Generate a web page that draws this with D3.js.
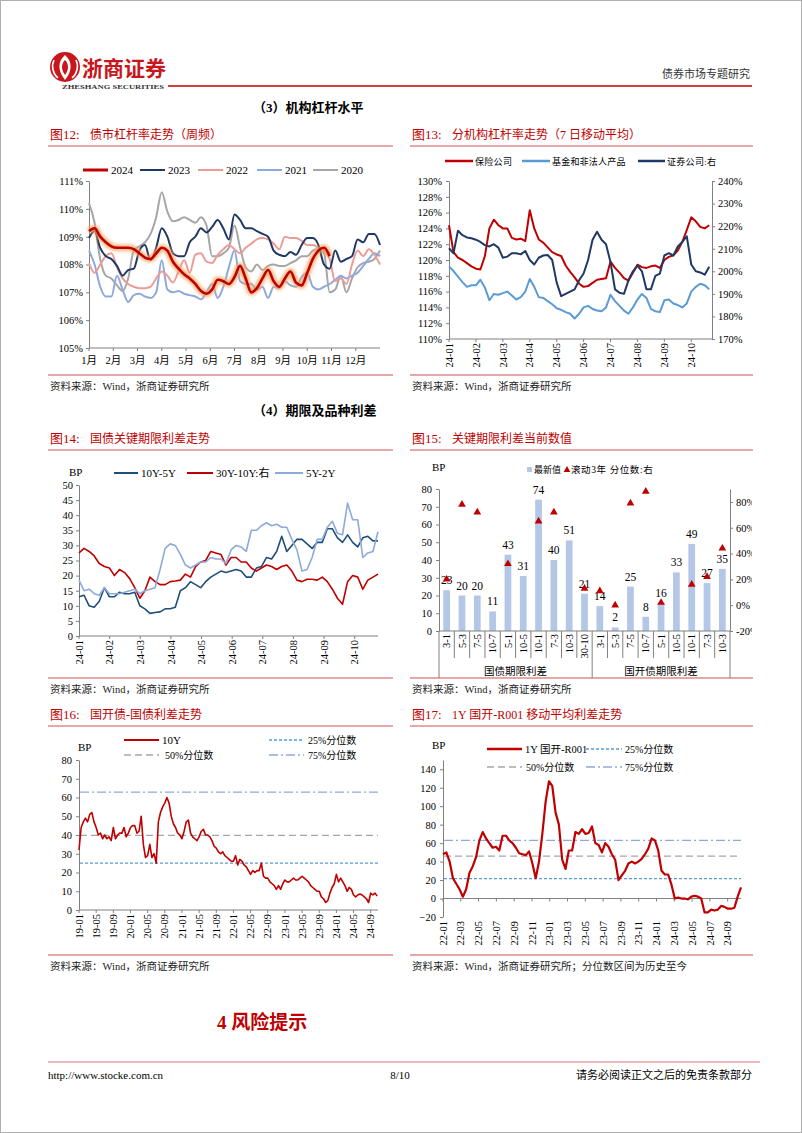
<!DOCTYPE html>
<html><head><meta charset="utf-8">
<script src="https://cdn.jsdelivr.net/npm/d3@7"></script>
<style>body{margin:0;background:#fff;}</style>
</head><body>
<svg id="page" width="802" height="1133"></svg>
<script>
// ---------------- DATA ----------------
// Fig 12: weekly bond-market leverage (%), week index 0..52
const monthLabels12 = ["1月","2月","3月","4月","5月","6月","7月","8月","9月","10月","11月","12月"];
const lev2024 = [109.2,109.3,109.0,108.8,108.65,108.6,108.6,108.6,108.55,108.4,108.25,108.2,108.4,108.6,108.5,108.1,107.85,107.65,107.5,107.3,107.05,106.95,107.1,107.45,107.4,107.3,107.55,107.95,107.5,107.0,107.15,107.5,107.8,107.4,107.2,107.5,107.75,107.35,107.25,107.7,108.2,108.5,108.6,108.3];
const lev2023 = [108.95,109.2,108.6,108.3,108.2,107.95,107.6,107.8,107.85,108.5,108.7,108.15,108.6,109.3,109.0,108.4,108.3,108.3,108.8,109.0,109.3,109.15,109.35,109.6,109.3,108.9,109.8,109.6,109.3,109.3,109.2,109.1,109.0,108.5,108.35,108.3,108.45,108.35,108.7,108.95,108.95,108.7,108.0,107.85,108.5,108.1,108.2,108.3,108.9,108.8,109.1,109.1,108.7];
const lev2022 = [108.05,107.7,108.0,108.3,108.4,107.9,107.5,107.3,107.2,107.15,107.15,107.2,107.5,107.75,107.6,107.35,107.75,108.15,107.7,108.35,108.4,108.1,108.05,108.35,108.55,108.7,108.55,108.4,108.6,108.75,108.9,108.95,108.9,108.75,108.55,109.0,108.95,108.95,108.85,108.7,108.7,108.6,108.5,108.2,107.4,107.5,107.3,108.0,108.5,108.3,108.55,108.35,108.0];
const lev2021 = [108.5,108.0,107.2,106.85,106.85,107.6,107.1,106.65,106.9,106.95,106.85,106.8,107.0,108.15,107.1,107.0,107.05,106.95,106.9,106.85,106.75,107.0,107.3,106.8,107.2,107.9,108.5,107.4,107.3,107.3,107.1,107.2,106.8,107.2,107.15,107.4,107.25,107.2,107.55,107.7,107.2,107.1,107.2,107.3,107.45,107.6,107.5,107.6,107.7,107.95,108.2,108.4,108.3];
const lev2020 = [110.2,109.5,108.2,107.6,107.5,107.25,107.05,107.5,108.5,108.65,108.8,109.1,109.7,110.6,109.9,109.55,109.6,109.7,109.6,109.5,109.7,109.4,108.3,108.3,108.4,108.6,109.4,108.6,107.9,107.75,108.0,107.8,107.95,108.0,107.95,107.95,108.05,108.15,108.3,108.3,108.5,108.55,108.4,107.0,107.1,107.6,107.0,107.5,107.9,108.05,108.1,108.2,108.5];

// Fig 13: leverage by institution, 7-day MA, one reading every 5 days from 24-01
const ticks13 = ["24-01","24-02","24-03","24-04","24-05","24-06","24-07","24-08","24-09","24-10"];
const insurance13 = [124.4,121.0,120.3,120.0,119.6,119.2,118.9,118.8,120.5,124.0,125.1,124.4,124.0,124.0,122.8,122.6,122.7,122.4,126.3,124.0,122.6,122.2,121.6,121.0,120.7,120.5,119.3,118.5,117.8,117.0,116.6,116.7,117.1,117.5,117.6,117.7,119.8,119.0,118.4,117.7,117.4,118.4,119.4,119.1,119.0,119.2,119.3,119.0,120.0,120.4,120.6,121.2,122.3,123.8,125.4,124.9,124.2,124.0,124.4];
const funds13 = [119.2,118.6,117.9,117.2,116.6,116.8,116.8,117.5,116.5,114.9,115.7,115.6,115.8,116.0,115.5,115.0,115.3,116.0,117.6,116.6,115.3,115.2,114.8,114.4,113.9,113.7,113.4,113.2,112.6,113.2,114.0,114.2,113.8,113.6,113.5,114.0,115.6,114.8,114.2,113.6,113.2,114.0,115.0,115.7,115.2,113.8,113.5,113.4,114.9,115.0,114.5,114.3,114.0,114.5,116.0,116.6,117.0,116.8,116.3];
const broker13 = [210.2,208,218,216,215,214.6,214,213,211.6,211,212,210.5,206,206.5,208,208,207.5,209,205,203,206,207,207.2,205,195,189,190,191,192,196,199,205,214,217.5,214,212,204,192,190.5,190,196,200,202.5,200,192,192,198,199,207,208,207,211,213,215.5,203,200,199.5,198.5,202];

// Fig 14: key-tenor spreads (BP), one reading every ~5 days from 24-01
const ticks14 = ["24-01","24-02","24-03","24-04","24-05","24-06","24-07","24-08","24-09","24-10"];
const s10y5y = [13,13.5,10,9.5,11.5,16,13,13,14.5,14,14,14.5,10,9,7.5,7.8,8,9,9,9.5,15,16,18,17,16,18,19.5,20.5,21.5,21,21.5,22,21.5,19.5,19.5,22.5,23,26,25.5,28,33,28,30,32,32,30.5,29,31,31,35.5,35.5,32.5,31,33.5,31,29.5,32.5,33,31.5,31.5];
const s30y10y = [27.5,29,28,26.5,24,23,22.5,20,22,21,19,16,12.5,15,19.5,18,17,17,18,18.2,18.5,20.5,19.5,23,24.5,25,28,27.5,27,23.5,26,26,24.5,24.5,22.5,21.5,22.5,23.5,23,22,23,23.5,21.5,18.5,18,18.8,18.8,18.5,19.5,18,15.5,12.5,10.5,18,20,19.5,15.5,18.5,19.5,20.5];
const s5y2y = [18.5,15,15.5,14,13.5,16,14,14,14,14.5,15,15.5,14,15,15.5,16,22,29,30.5,30,27,23.5,22.5,23.5,24.5,24.5,26,25.5,25.5,24,28.5,30,29.5,28,35,35,36.5,37.5,36.5,37,36,36,32,28.5,21.5,22,26,32,32,36,38,34,33.5,44,38.5,38.5,26,27.5,28,34.5];

// Fig 15: current key-tenor spreads
const cats15 = ["3-1","5-3","7-5","10-7","5-1","10-5","10-1","7-3","10-3","30-10","3-1","5-3","7-5","10-7","5-1","10-5","10-1","7-3","10-3"];
const groupNames15 = ["国债期限利差","国开债期限利差"];
const groupSizes15 = [10,9];
const latest15 = [23,20,20,11,43,31,74,40,51,21,14,2,25,8,16,33,49,27,35];
const pct15 = [20,78,72,null,32,null,65,72,null,13,11,0,79,88,2,null,16,22,44];

// Fig 16: CDB - CGB 10Y spread (BP), two readings per month from 19-01
const ticks16 = ["19-01","19-05","19-09","20-01","20-05","20-09","21-01","21-05","21-09","22-01","22-05","22-09","23-01","23-05","23-09","24-01","24-05","24-09"];
const cdb16 = [32,44,47,49,47,51,52,47,44,40,41,38,40,38,39,37,44,38,40,41,41,44,39,41,44,45,45,41,42,50,35,28,29,35,28,30,25,47,52,55,57,60,57,50,46,44,41,40,38,42,47,48,41,39,38,37,39,42,43,40,40,39,37,34,33,31,30,31,29,28,27,26,26,29,24,27,26,24,23,21,19,21,20,21,21,25,18,17,17,15,14,13,11,13,11,14,16,15,15,16,17,16,16,17,18,17,16,15,13,12,11,10,10,7,6,4,5,9,12,14,19,15,17,15,13,10,12,11,8,7,8,8.5,8,7,6,4,9,8,9,7.5];
const q16 = [25, 39.8, 62.9]; // 25%, 50%, 75% quantiles

// Fig 17: 1Y CDB - R001 moving-average spread (BP), readings every ~11 days from 22-01
const ticks17 = ["22-01","22-03","22-05","22-07","22-09","22-11","23-01","23-03","23-05","23-07","23-09","23-11","24-01","24-03","24-05","24-07","24-09"];
const r17 = [48,50,40,22,16,10,2,10,28,35,45,63,72,65,60,55,56,52,68,68,63,60,55,49,48,47,51,38,22,40,70,105,127,122,93,80,42,32,52,52,72,70,75,70,71,78,60,58,50,60,56,48,42,20,25,30,38,40,38,40,43,48,54,65,63,52,30,26,26,15,0,1,0,0,-1,2,3,2,0,-15,-15,-12,-13,-12,-8,-9,-11,-11,-10,2,12];
const q17 = [21.5, 46, 63];

// ---------------- DRAWING ----------------
const svg = d3.select("#page");
const RED = "#C00000";
const SERIF = '"Liberation Serif","Times New Roman","Noto Sans CJK SC",serif';
const CJK = '"Noto Sans CJK SC","Liberation Serif",sans-serif';
svg.append("rect").attr("width",802).attr("height",1133).attr("fill","#fff");
svg.append("rect").attr("x",0.5).attr("y",0.5).attr("width",801).attr("height",1132).attr("fill","none").attr("stroke","#b0b0b0");

const defs = svg.append("defs");
defs.append("filter").attr("id","glow").attr("x","-5%").attr("y","-20%").attr("width","110%").attr("height","140%")
  .append("feGaussianBlur").attr("stdDeviation",1.6);
defs.append("clipPath").attr("id","clip15").append("rect").attr("x",-400).attr("y",420).attr("width",752+400-730).attr("height",300);

function txt(x,y,s,o={}){
  const t = (o.parent||svg).append("text").attr("x",x).attr("y",y).text(s)
    .attr("font-size",o.size||11).attr("fill",o.fill||"#000")
    .attr("text-anchor",o.anchor||"start").attr("font-weight",o.weight||"normal")
    .style("font-family",o.family||SERIF);
  if(o.ls!=null) t.attr("letter-spacing",o.ls);
  return t;
}
function hline(x1,x2,y,color,w,dash){
  const l = svg.append("line").attr("x1",x1).attr("x2",x2).attr("y1",y).attr("y2",y)
    .attr("stroke",color).attr("stroke-width",w||1);
  if(dash) l.attr("stroke-dasharray",dash);
  return l;
}
function vline(x,y1,y2,color,w){
  return svg.append("line").attr("x1",x).attr("x2",x).attr("y1",y1).attr("y2",y2).attr("stroke",color).attr("stroke-width",w||1);
}
function title(x,y,num,t,x2){
  txt(x,y,num,{size:13,fill:RED});
  txt(x+40,y,t,{size:12,fill:RED});
  hline(x-2,x2,y+7,"#D05050",1);
}
function source(x,y,x2,t){
  hline(x-2,x2,y,"#D05050",1);
  txt(x,y+15,t,{size:10.5,fill:"#222"});
}
function styleAxis(g){
  g.attr("font-family",SERIF).attr("font-size",10.5);
  g.selectAll(".domain").attr("stroke","#808080");
  g.selectAll(".tick line").attr("stroke","#808080");
  g.selectAll(".tick text").attr("fill","#000");
}
function drawLine(data,xf,yf,color,w,curve){
  return svg.append("path").datum(data)
    .attr("d",d3.line().defined(d=>d!=null).x((d,i)=>xf(i)).y(d=>yf(d)).curve(curve||d3.curveLinear))
    .attr("fill","none").attr("stroke",color).attr("stroke-width",w).attr("stroke-linejoin","round");
}
function rotLabels(labels,xf,yTop,size){
  labels.forEach((l,i)=>{
    svg.append("text").attr("transform",`translate(${xf(i)},${yTop}) rotate(-90)`)
      .attr("text-anchor","end").attr("dy","0.35em").attr("font-size",size||10.5)
      .style("font-family",SERIF).attr("fill","#000").text(l);
  });
}
function legLine(x1,x2,y,color,w,dash){ return hline(x1,x2,y,color,w,dash); }

// ---- Header ----
svg.append("circle").attr("cx",65).attr("cy",67).attr("r",15).attr("fill","#C8161D");
svg.append("path").attr("d","M65,55 C58,61 57,70 65,80 C73,70 72,61 65,55 Z").attr("fill","#fff");
svg.append("path").attr("d","M65,60 C61,64 61,70 65,75 C69,70 69,64 65,60 Z").attr("fill","#C8161D");
svg.append("path").attr("d","M54,60 C51,66 53,74 58,78 M76,60 C79,66 77,74 72,78").attr("fill","none").attr("stroke","#fff").attr("stroke-width",1.6);
txt(82,76,"浙商证券",{size:21,fill:"#C8161D",weight:"bold",family:CJK});
txt(62,89,"ZHESHANG SECURITIES",{size:6,fill:"#333",weight:"bold"}).attr("textLength",102).attr("lengthAdjust","spacingAndGlyphs");
hline(168,752,86,RED,1.5);
txt(750,78,"债券市场专题研究",{size:11,fill:"#333",anchor:"end"});
txt(253,112,"（3）机构杠杆水平",{size:13,weight:"bold"});

// ---- Fig 12 ----
title(50,139,"图12:","债市杠杆率走势（周频）",393);
{
  const x = d3.scaleLinear().domain([0,52]).range([89,380]);
  const y = d3.scaleLinear().domain([105,111]).range([348,181]);
  const ga = svg.append("g").attr("transform","translate(89,0)")
    .call(d3.axisLeft(y).tickValues(d3.range(105,112)).tickFormat(d=>d+"%").tickSize(3).tickSizeOuter(0).tickPadding(3));
  styleAxis(ga);
  hline(89,380,348,"#808080",1);
  monthLabels12.forEach((m,i)=>{
    const xx = x(i*52/12);
    vline(xx,348,351,"#808080",1);
    txt(xx,364,m,{size:10.5,anchor:"middle"});
  });
  const xf = i=>x(i);
  drawLine(lev2020,xf,y,"#A6A6A6",2,d3.curveMonotoneX);
  drawLine(lev2021,xf,y,"#8EA9DB",2,d3.curveMonotoneX);
  drawLine(lev2022,xf,y,"#EC9C96",2,d3.curveMonotoneX);
  drawLine(lev2023,xf,y,"#1F3864",2,d3.curveMonotoneX);
  drawLine(lev2024,xf,y,"#F4A460",7,d3.curveMonotoneX).attr("opacity",0.75).attr("filter","url(#glow)");
  drawLine(lev2024,xf,y,"#C00000",2.6,d3.curveMonotoneX);
  const leg = [["2024","#C00000",3,83],["2023","#1F3864",2,140],["2022","#EC9C96",2,198],["2021","#8EA9DB",2,257],["2020","#A6A6A6",2,313]];
  leg.forEach(([n,c,w,lx])=>{ legLine(lx,lx+25,170,c,w); txt(lx+28,174,n,{size:11}); });
}
source(50,375,393,"资料来源：Wind，浙商证券研究所");

// ---- Fig 13 ----
title(412,139,"图13:","分机构杠杆率走势（7 日移动平均）",753);
{
  const x = d3.scaleLinear().domain([0,9.77]).range([449,712]);
  const yL = d3.scaleLinear().domain([110,130]).range([339,181]);
  const yR = d3.scaleLinear().domain([170,240]).range([339,181]);
  const gl = svg.append("g").attr("transform","translate(449,0)")
    .call(d3.axisLeft(yL).tickValues(d3.range(110,131,2)).tickFormat(d=>d+"%").tickSize(3).tickSizeOuter(0).tickPadding(4));
  styleAxis(gl);
  const gr = svg.append("g").attr("transform","translate(712,0)")
    .call(d3.axisRight(yR).tickValues(d3.range(170,241,10)).tickFormat(d=>d+"%").tickSize(3).tickSizeOuter(0).tickPadding(3));
  styleAxis(gr);
  hline(449,712,339,"#808080",1);
  ticks13.forEach((t,i)=>vline(x(i),339,342,"#808080",1));
  rotLabels(ticks13,i=>x(i),343,10.5);
  const xf = i=>x(i/6);
  drawLine(insurance13,xf,yL,"#C00000",2);
  drawLine(funds13,xf,yL,"#5B9BD5",2);
  drawLine(broker13,xf,yR,"#1F3864",2);
  legLine(445,473,161,"#C00000",2.5); txt(475,165,"保险公司",{size:9,ls:0.3});
  legLine(522,550,161,"#5B9BD5",2.5); txt(552,165,"基金和非法人产品",{size:9,ls:0.2});
  legLine(638,665,161,"#1F3864",2.5); txt(667,165,"证券公司:右",{size:9,ls:0.3});
}
source(412,375,753,"资料来源：Wind，浙商证券研究所");

txt(253,415,"（4）期限及品种利差",{size:13,weight:"bold"});

// ---- Fig 14 ----
title(50,443,"图14:","国债关键期限利差走势",393);
{
  const x = d3.scaleLinear().domain([0,9.76]).range([79,378]);
  const y = d3.scaleLinear().domain([0,50]).range([636,485]);
  const ga = svg.append("g").attr("transform","translate(79,0)")
    .call(d3.axisLeft(y).tickValues(d3.range(0,51,5)).tickSize(3).tickSizeOuter(0).tickPadding(3));
  styleAxis(ga);
  hline(79,378,636,"#808080",1);
  ticks14.forEach((t,i)=>vline(x(i),636,639,"#808080",1));
  rotLabels(ticks14,i=>x(i),640,10.5);
  txt(69,476,"BP",{size:11});
  const xf = i=>x(i*9.76/59);
  drawLine(s10y5y,xf,y,"#1F4E79",1.6);
  drawLine(s30y10y,xf,y,"#C00000",1.6);
  drawLine(s5y2y,xf,y,"#8EA9DB",1.6);
  legLine(114,138,473,"#1F4E79",2); txt(141,477,"10Y-5Y",{size:11});
  legLine(187,213,473,"#C00000",2); txt(216,477,"30Y-10Y:右",{size:11});
  legLine(275,303,473,"#8EA9DB",2); txt(306,477,"5Y-2Y",{size:11});
}
source(50,678,393,"资料来源：Wind，浙商证券研究所");

// ---- Fig 15 ----
title(412,443,"图15:","关键期限利差当前数值",753);
{
  const x = d3.scaleBand().domain(d3.range(cats15.length)).range([439,730]).paddingInner(0.56).paddingOuter(0.28);
  const y = d3.scaleLinear().domain([0,80]).range([631,489]);
  const yR = d3.scaleLinear().domain([-20,90]).range([631,489]);
  const ga = svg.append("g").attr("transform","translate(439,0)")
    .call(d3.axisLeft(y).tickValues(d3.range(0,81,10)).tickSize(3).tickSizeOuter(0).tickPadding(4));
  styleAxis(ga);
  const gr = svg.append("g").attr("transform","translate(730,0)").attr("clip-path","url(#clip15)")
    .call(d3.axisRight(yR).tickValues(d3.range(-20,81,20)).tickFormat(d=>d+"%").tickSize(3).tickSizeOuter(0).tickPadding(3));
  styleAxis(gr);
  txt(432,471,"BP",{size:11});
  svg.selectAll(".bar15").data(latest15).enter().append("rect")
    .attr("x",(d,i)=>x(i)).attr("width",x.bandwidth())
    .attr("y",d=>y(d)).attr("height",d=>631-y(d)).attr("fill","#B4C7E7");
  latest15.forEach((d,i)=>txt(x(i)+x.bandwidth()/2,y(d)-6,String(d),{size:11.5,anchor:"middle"}));
  const tri = d3.symbol().type(d3.symbolTriangle).size(26);
  pct15.forEach((p,i)=>{
    if(p==null) return;
    svg.append("path").attr("d",tri()).attr("transform",`translate(${x(i)+x.bandwidth()/2},${yR(p)})`).attr("fill","#C00000");
  });
  hline(439,730,631,"#808080",1);
  const step = x.step();
  let acc = 0;
  const bounds = [0];
  groupSizes15.forEach(n=>{acc+=n; bounds.push(acc);});
  d3.range(cats15.length+1).forEach(k=>{
    const xx = 439 + k*step;
    vline(xx,631, bounds.includes(k)?678:658,"#808080",1);
  });
  rotLabels(cats15,i=>x(i)+x.bandwidth()/2,634,10.5);
  groupNames15.forEach((g,j)=>{
    const cx = 439 + (bounds[j]+bounds[j+1])/2*step;
    txt(cx,675,g,{size:10.5,anchor:"middle"});
  });
  svg.append("rect").attr("x",527).attr("y",467).attr("width",5).attr("height",5).attr("fill","#B4C7E7");
  txt(534,473,"最新值",{size:9});
  svg.append("path").attr("d",d3.symbol().type(d3.symbolTriangle).size(20)()).attr("transform","translate(567,470)").attr("fill","#C00000");
  txt(571,473,"滚动3年 分位数:右",{size:9.5,ls:0.6});
}
source(412,678,753,"资料来源：Wind，浙商证券研究所");

// ---- Fig 16 ----
title(50,719,"图16:","国开债-国债利差走势",393);
{
  const x = d3.scaleLinear().domain([0,69.7]).range([79,378]);
  const y = d3.scaleLinear().domain([0,80]).range([910,760]);
  const ga = svg.append("g").attr("transform","translate(79,0)")
    .call(d3.axisLeft(y).tickValues(d3.range(0,81,10)).tickSize(3).tickSizeOuter(0).tickPadding(4));
  styleAxis(ga);
  hline(79,378,910,"#808080",1);
  ticks16.forEach((t,i)=>vline(x(i*4),910,913,"#808080",1));
  rotLabels(ticks16,i=>x(i*4),914,10.5);
  txt(78,751,"BP",{size:11});
  hline(80,378,y(q16[0]),"#5B9BD5",1.3,"3,2");
  hline(80,378,y(q16[1]),"#A6A6A6",1.3,"7,4");
  hline(80,378,y(q16[2]),"#8EA9DB",1.3,"9,3,2,3");
  drawLine(cdb16,i=>x(i/2),y,"#C00000",1.6);
  legLine(124,159,740,"#C00000",2); txt(162,744,"10Y",{size:11});
  legLine(269,304,740,"#5B9BD5",1.3,"3,2"); txt(308,744,"25%分位数",{size:10});
  legLine(124,159,755,"#A6A6A6",1.3,"7,4"); txt(165,759,"50%分位数",{size:10});
  legLine(269,304,755,"#8EA9DB",1.3,"9,3,2,3"); txt(308,759,"75%分位数",{size:10});
}
source(50,955,393,"资料来源：Wind，浙商证券研究所");

// ---- Fig 17 ----
title(412,719,"图17:","1Y 国开-R001 移动平均利差走势",753);
{
  const x = d3.scaleLinear().domain([0,33.5]).range([443,741]);
  const y = d3.scaleLinear().domain([-20,150]).range([917,760]);
  const ga = svg.append("g").attr("transform","translate(443,0)")
    .call(d3.axisLeft(y).tickValues(d3.range(-20,141,20)).tickSize(3).tickSizeOuter(0).tickPadding(4));
  styleAxis(ga);
  hline(443,741,y(0),"#808080",1);
  ticks17.forEach((t,i)=>vline(x(i*2),y(0),y(0)+3,"#808080",1));
  rotLabels(ticks17,i=>x(i*2),921,10.5);
  txt(432,749,"BP",{size:11});
  hline(444,741,y(q17[0]),"#5B9BD5",1.3,"3,2");
  hline(444,741,y(q17[1]),"#A6A6A6",1.3,"7,4");
  hline(444,741,y(q17[2]),"#8EA9DB",1.3,"9,3,2,3");
  drawLine(r17,i=>x(i*33.5/90),y,"#C00000",2.2);
  legLine(487,522,749,"#C00000",2.5); txt(525,753,"1Y 国开-R001",{size:10.5});
  legLine(586,622,749,"#5B9BD5",1.3,"3,2"); txt(625,753,"25%分位数",{size:10});
  legLine(487,522,767,"#A6A6A6",1.3,"7,4"); txt(526,771,"50%分位数",{size:10});
  legLine(586,622,767,"#8EA9DB",1.3,"9,3,2,3"); txt(625,771,"75%分位数",{size:10});
}
source(412,955,753,"资料来源：Wind，浙商证券研究所；分位数区间为历史至今");

// ---- Footer ----
txt(217,1029,"4 风险提示",{size:19,weight:"bold",fill:RED});
hline(48,760,1062,"#D9777A",1.2);
txt(48,1079,"http://www.stocke.com.cn",{size:11});
txt(400,1079,"8/10",{size:11,anchor:"middle"});
txt(752,1079,"请务必阅读正文之后的免责条款部分",{size:11,anchor:"end"});
</script>
</body></html>
